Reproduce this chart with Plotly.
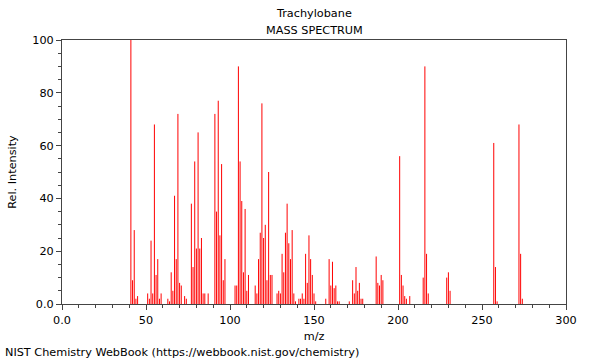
import plotly.graph_objects as go

mz = [41, 42, 43, 44, 45, 51, 52, 53, 54, 55, 56, 57, 58, 59,
      63, 64, 65, 66, 67, 68, 69, 70, 71, 73, 74,
      77, 78, 79, 80, 81, 82, 83, 84, 85, 87,
      91, 92, 93, 94, 95, 96, 97,
      103, 104, 105, 106, 107, 108, 109, 110, 111,
      115, 116, 117, 118, 119, 120, 121, 122, 123, 124, 125,
      128, 129, 130, 131, 132, 133, 134, 135, 136, 137, 138, 139,
      141, 142, 143, 144, 145, 146, 147, 148, 149, 150, 151,
      157, 159, 160, 161, 162, 163, 164, 165,
      171, 173, 174, 175, 176, 177, 178, 179,
      187, 188, 189, 190, 191,
      201, 202, 203, 204, 205, 207,
      215, 216, 217, 218,
      229, 230, 231,
      257, 258, 259,
      272, 273, 274]
intensity = [100, 9, 28, 2, 3, 4, 2, 24, 4, 68, 11, 17, 2, 4,
             2, 1, 12, 5, 41, 17, 72, 8, 7, 3, 2,
             38, 14, 54, 21, 65, 21, 25, 4, 4, 4,
             72, 35, 77, 26, 53, 9, 17,
             7, 7, 90, 54, 39, 12, 36, 5, 11,
             7, 4, 17, 27, 76, 25, 30, 9, 50, 11, 11,
             4, 5, 4, 19, 12, 27, 38, 23, 17, 28, 4, 1,
             2, 2, 4, 2, 19, 8, 26, 17, 11, 4, 1,
             2, 17, 7, 16, 6, 7, 1, 1,
             1, 9, 4, 14, 5, 8, 2, 2,
             18, 8, 7, 11, 9,
             56, 11, 7, 3, 2, 3,
             10, 90, 19, 4,
             10, 12, 5,
             61, 14, 1,
             68, 19, 2]

x_tickvals = [0, 50, 100, 150, 200, 250, 300]
x_ticktext = ["0.0", "50", "100", "150", "200", "250", "300"]
y_tickvals = [0, 20, 40, 60, 80, 100]
y_ticktext = ["0.0", "20", "40", "60", "80", "100"]

FONT = "DejaVu Sans, sans-serif"
FS = 11.25

# stick spectrum: one vertical segment per peak
xs, ys = [], []
for m, v in zip(mz, intensity):
    xs += [m, m, None]
    ys += [0, v, None]

fig = go.Figure()
fig.add_trace(go.Scatter(x=xs, y=ys, mode="lines",
                         line=dict(color="#ff0000", width=1),
                         hoverinfo="skip", showlegend=False))

axis_common = dict(showline=True, linecolor="#444444", linewidth=1, mirror=True,
                   showgrid=False, zeroline=False, ticks="outside",
                   tickcolor="#444444", tickfont=dict(family=FONT, size=FS, color="#000"))

fig.update_xaxes(range=[0, 300], tickvals=x_tickvals, ticktext=x_ticktext, ticklen=5,
                 minor=dict(dtick=10, tick0=0, ticks="outside", ticklen=3, tickcolor="#444444"),
                 title=dict(text="m/z", font=dict(family=FONT, size=FS, color="#000"), standoff=6),
                 **axis_common)
fig.update_yaxes(range=[0, 100], tickvals=y_tickvals, ticktext=y_ticktext, ticklen=5,
                 minor=dict(dtick=5, tick0=0, ticks="outside", ticklen=3, tickcolor="#444444"),
                 title=dict(text="Rel. Intensity", font=dict(family=FONT, size=FS, color="#000"), standoff=13),
                 **axis_common)

fig.update_layout(
    width=600, height=360,
    margin=dict(l=62, r=34, t=40, b=56),
    plot_bgcolor="white", paper_bgcolor="white",
    font=dict(family=FONT, size=FS, color="#000"),
    annotations=[
        dict(text="Trachylobane", xref="paper", yref="paper", x=0.5, y=1,
             yshift=27, showarrow=False, font=dict(family=FONT, size=FS),
             xanchor="center", yanchor="middle"),
        dict(text="MASS SPECTRUM", xref="paper", yref="paper", x=0.5, y=1,
             yshift=10, showarrow=False, font=dict(family=FONT, size=FS),
             xanchor="center", yanchor="middle"),
        dict(text="NIST Chemistry WebBook (https://webbook.nist.gov/chemistry)",
             xref="paper", yref="paper", x=-59/504, y=0, yshift=-48,
             showarrow=False, font=dict(family=FONT, size=FS),
             xanchor="left", yanchor="middle"),
    ],
)

fig.write_html("out.html", config={"displayModeBar": False},
               post_script="document.body.style.margin='0';document.body.style.overflow='hidden';")
